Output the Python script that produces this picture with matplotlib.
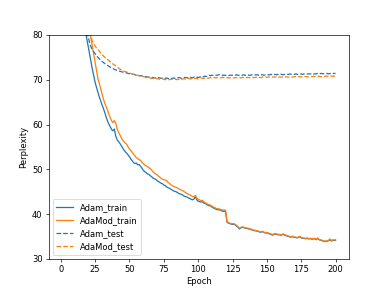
import numpy as np
import matplotlib
matplotlib.use("Agg")
import matplotlib.pyplot as plt

epochs = list(range(1, 201))

adam_train = [
    420, 310, 250, 210, 182, 160, 144, 131, 121, 113,
    106.5, 101, 96.5, 92.5, 89, 86, 83.3, 80.7, 79.0, 77.3,
    75.6, 73.9, 72.3, 70.9, 69.4, 68.3, 67.2, 66.2, 65.3, 64.4,
    63.6, 62.7, 61.7, 60.8, 60.1, 59.5, 58.9, 58.6, 59.0, 57.4,
    56.6, 56.2, 55.8, 55.3, 54.8, 54.3, 53.9, 53.6, 53.2, 52.8,
    52.3, 51.9, 51.5, 51.3, 51.4, 51.0, 51.1, 50.7, 50.3, 49.8,
    49.5, 49.3, 49.0, 48.9, 48.6, 48.4, 48.1, 47.9, 47.8, 47.5,
    47.3, 47.1, 46.9, 46.8, 46.5, 46.4, 46.1, 45.9, 45.8, 45.6,
    45.4, 45.2, 45.1, 45.0, 44.8, 44.6, 44.5, 44.4, 44.2, 44.0,
    43.9, 43.8, 43.6, 43.5, 43.3, 43.2, 43.4, 43.9, 43.2, 42.9,
    42.8, 42.7, 42.8, 42.5, 42.4, 42.2, 42.0, 41.9, 41.8, 41.6,
    41.4, 41.3, 41.1, 41.0, 41.0, 40.9, 40.8, 40.6, 40.7, 40.5,
    38.2, 38.0, 37.9, 37.8, 37.7, 37.8, 37.6, 37.3, 37.1, 36.7,
    36.9, 37.1, 37.0, 36.9, 36.8, 36.8, 36.7, 36.6, 36.5, 36.4,
    36.3, 36.3, 36.2, 36.1, 36.0, 36.0, 36.1, 35.9, 35.8, 35.8,
    35.7, 35.6, 35.5, 35.3, 35.5, 35.6, 35.5, 35.4, 35.4, 35.3,
    35.4, 35.5, 35.3, 35.2, 35.1, 35.0, 34.9, 34.9, 35.0, 34.8,
    34.8, 34.7, 34.8, 35.0, 34.7, 34.6, 34.6, 34.5, 34.6, 34.5,
    34.5, 34.5, 34.4, 34.5, 34.5, 34.3, 34.6, 34.3, 34.2, 34.1,
    34.0, 33.9, 33.9, 34.0, 34.1, 34.3, 34.0, 34.2, 34.1, 34.2,
]

adamod_train = [
    450, 330, 265, 222, 192, 169, 151, 137, 126, 118.5,
    113, 108, 103.5, 99.5, 96, 93, 90.2, 87.7, 85.4, 83.2,
    80.9, 79.2, 77.4, 75.6, 73.8, 72.0, 70.3, 69.2, 68.0, 66.9,
    65.7, 64.8, 64.0, 63.2, 62.3, 61.5, 60.8, 60.4, 60.9, 60.3,
    59.0, 58.3, 57.7, 57.1, 56.5, 56.2, 55.9, 55.6, 55.0, 54.5,
    54.2, 53.8, 53.4, 53.0, 52.6, 52.4, 52.2, 52.0, 51.6, 51.3,
    51.0, 50.8, 50.6, 50.4, 50.2, 49.9, 49.5, 49.2, 49.0, 48.8,
    48.5, 48.3, 48.0, 47.8, 47.7, 47.6, 47.5, 47.1, 46.9, 46.6,
    46.4, 46.2, 46.1, 46.0, 45.8, 45.6, 45.5, 45.3, 45.2, 45.0,
    44.8, 44.6, 44.4, 44.3, 44.1, 43.9, 43.9, 44.2, 43.6, 43.3,
    43.2, 43.0, 43.1, 42.8, 42.6, 42.4, 42.2, 42.1, 42.0, 41.8,
    41.6, 41.5, 41.3, 41.2, 41.2, 41.1, 41.0, 40.9, 41.0, 40.8,
    38.4, 38.1, 38.0, 37.9, 37.9, 37.9, 37.7, 37.5, 37.2, 36.9,
    37.0, 37.2, 37.1, 37.0, 36.9, 36.9, 36.8, 36.7, 36.6, 36.5,
    36.4, 36.4, 36.3, 36.2, 36.1, 36.1, 36.2, 36.0, 35.9, 35.9,
    35.8, 35.7, 35.6, 35.4, 35.6, 35.7, 35.6, 35.5, 35.5, 35.4,
    35.5, 35.6, 35.4, 35.3, 35.2, 35.1, 35.0, 35.0, 35.1, 34.9,
    34.9, 34.8, 34.9, 35.1, 34.8, 34.7, 34.7, 34.6, 34.7, 34.6,
    34.6, 34.6, 34.5, 34.6, 34.6, 34.4, 34.7, 34.4, 34.3, 34.2,
    34.1, 34.0, 34.0, 34.1, 34.2, 34.5, 34.1, 34.3, 34.2, 34.3,
]

adam_test = [
    165, 145, 131, 121, 114, 109, 105, 102, 99.5, 97.4,
    95.5, 93.0, 91.0, 89.0, 87.2, 85.6, 84.0, 82.5, 81.0, 79.5,
    78.2, 77.3, 76.7, 76.2, 75.8, 75.4, 75.0, 74.7, 74.4, 74.1,
    73.85, 73.6, 73.4, 73.2, 73.0, 72.8, 72.6, 72.5, 72.3, 72.2,
    72.1, 72.0, 71.9, 71.8, 71.7, 71.65, 71.6, 71.5, 71.4, 71.35,
    71.3, 71.2, 71.2, 71.1, 71.0, 71.0, 70.9, 70.9, 70.85, 70.8,
    70.75, 70.7, 70.6, 70.6, 70.5, 70.5, 70.5, 70.4, 70.4, 70.4,
    70.5, 70.4, 70.3, 70.4, 70.3, 70.3, 70.4, 70.3, 70.2, 70.3,
    70.3, 70.4, 70.3, 70.3, 70.4, 70.5, 70.4, 70.3, 70.4, 70.5,
    70.5, 70.4, 70.5, 70.6, 70.5, 70.4, 70.6, 70.7, 70.6, 70.5,
    70.6, 70.7, 70.6, 70.7, 70.8, 70.7, 70.9, 71.0, 70.9, 71.0,
    71.0, 71.1, 71.0, 71.0, 71.1, 71.2, 71.1, 71.0, 71.0, 71.0,
    70.9, 70.9, 71.0, 71.0, 71.0, 71.0, 71.0, 71.1, 71.0, 71.0,
    71.0, 71.0, 71.1, 71.0, 71.0, 71.1, 71.0, 71.0, 71.1, 71.1,
    71.0, 71.1, 71.1, 71.0, 71.1, 71.1, 71.1, 71.0, 71.1, 71.1,
    71.1, 71.1, 71.2, 71.1, 71.1, 71.2, 71.1, 71.2, 71.2, 71.2,
    71.2, 71.1, 71.2, 71.2, 71.2, 71.2, 71.3, 71.2, 71.2, 71.2,
    71.3, 71.2, 71.2, 71.3, 71.3, 71.2, 71.3, 71.3, 71.3, 71.3,
    71.3, 71.3, 71.4, 71.3, 71.3, 71.3, 71.4, 71.3, 71.4, 71.4,
    71.3, 71.4, 71.4, 71.4, 71.3, 71.4, 71.4, 71.4, 71.4, 71.4,
]

adamod_test = [
    180, 160, 145, 133, 124, 117, 111, 106, 102, 99.8,
    98, 96, 94, 92, 90, 88, 86, 84.2, 82.6, 81.2,
    80.3, 79.5, 78.6, 78.0, 77.5, 77.1, 76.8, 76.4, 76.0, 75.6,
    75.3, 75.0, 74.7, 74.5, 74.3, 74.0, 73.8, 73.5, 73.3, 73.1,
    72.9, 72.6, 72.4, 72.2, 72.1, 71.9, 71.8, 71.7, 71.6, 71.5,
    71.4, 71.3, 71.2, 71.1, 71.0, 71.0, 70.9, 70.8, 70.8, 70.7,
    70.6, 70.5, 70.5, 70.4, 70.4, 70.3, 70.3, 70.2, 70.3, 70.2,
    70.2, 70.1, 70.1, 70.2, 70.1, 70.0, 70.1, 70.1, 70.0, 70.1,
    70.1, 70.2, 70.1, 70.1, 70.0, 70.1, 70.2, 70.1, 70.2, 70.2,
    70.1, 70.2, 70.3, 70.2, 70.2, 70.3, 70.2, 70.3, 70.3, 70.2,
    70.3, 70.4, 70.3, 70.3, 70.4, 70.4, 70.3, 70.4, 70.5, 70.4,
    70.4, 70.5, 70.4, 70.5, 70.5, 70.4, 70.5, 70.5, 70.5, 70.4,
    70.5, 70.4, 70.4, 70.5, 70.4, 70.4, 70.5, 70.4, 70.5, 70.5,
    70.4, 70.5, 70.5, 70.4, 70.5, 70.5, 70.5, 70.4, 70.5, 70.5,
    70.5, 70.5, 70.6, 70.5, 70.5, 70.5, 70.6, 70.5, 70.6, 70.5,
    70.6, 70.6, 70.5, 70.6, 70.6, 70.6, 70.6, 70.5, 70.6, 70.6,
    70.6, 70.6, 70.7, 70.6, 70.6, 70.6, 70.7, 70.6, 70.6, 70.7,
    70.7, 70.6, 70.7, 70.7, 70.6, 70.7, 70.7, 70.7, 70.7, 70.6,
    70.7, 70.7, 70.7, 70.8, 70.7, 70.7, 70.7, 70.8, 70.7, 70.7,
    70.8, 70.7, 70.8, 70.8, 70.7, 70.8, 70.8, 70.8, 70.8, 70.8,
]

fig, ax = plt.subplots(figsize=(6.4, 4.8), dpi=60.625)
ax.plot(epochs, adam_train, color="#1f77b4", label="Adam_train")
ax.plot(epochs, adamod_train, color="#ff7f0e", label="AdaMod_train")
ax.plot(epochs, adam_test, color="#1f77b4", linestyle="--", label="Adam_test")
ax.plot(epochs, adamod_test, color="#ff7f0e", linestyle="--", label="AdaMod_test")
ax.set_ylim(30, 80)
ax.set_xlabel("Epoch")
ax.set_ylabel("Perplexity")
ax.legend(loc="lower left")
fig.savefig("out.png", dpi=60.625)
